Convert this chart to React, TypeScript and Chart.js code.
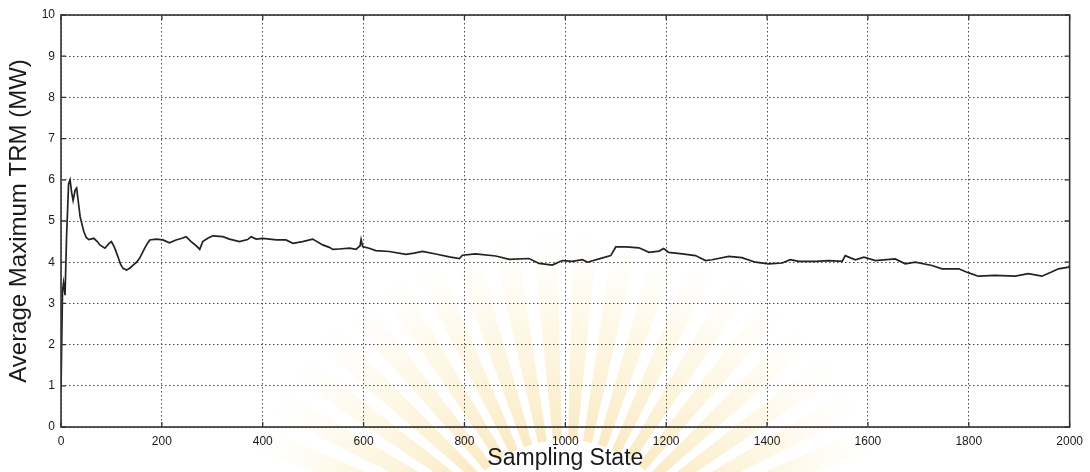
import React, { useEffect, useRef } from "react";
import { Chart, registerables } from "chart.js";

Chart.register(...registerables);

const samplingState: number[] = [
  0, 3, 5, 8, 11, 15, 18, 21, 24, 28, 31, 35, 38, 42, 45, 50, 55, 65, 72, 77, 87, 95, 100, 106, 113, 118,
  123, 130, 137, 143, 150, 156, 161, 166, 171, 176, 189, 202, 215, 228, 240, 248, 258, 268, 275, 281,
  291, 301, 321, 334, 354, 370, 377, 387, 400, 427, 446, 460, 479, 499, 519, 532, 539, 552, 572, 585,
  593, 595, 598, 611, 624, 651, 684, 700, 717, 743, 770, 790, 796, 822, 862, 889, 928, 948, 974, 994,
  1014, 1034, 1044, 1067, 1090, 1100, 1120, 1146, 1166, 1186, 1195, 1205, 1232, 1258, 1278, 1291,
  1324, 1350, 1377, 1403, 1430, 1446, 1463, 1496, 1522, 1549, 1555, 1575, 1592, 1615, 1654, 1674,
  1694, 1727, 1747, 1780, 1800, 1819, 1852, 1892, 1918, 1945, 1964, 1978, 1998, 2000,
];

const avgMaxTRM: number[] = [
  0.9, 3.3, 3.5, 3.2, 4.6, 5.9, 6.0, 5.7, 5.5, 5.75, 5.8, 5.4, 5.1, 4.9, 4.75, 4.6, 4.55, 4.58, 4.5,
  4.42, 4.34, 4.45, 4.5, 4.36, 4.13, 3.95, 3.85, 3.81, 3.86, 3.93, 4.0, 4.1, 4.22, 4.34, 4.45, 4.54,
  4.56, 4.54, 4.47, 4.54, 4.58, 4.62, 4.5, 4.4, 4.31, 4.5, 4.58, 4.64, 4.62, 4.56, 4.5, 4.55, 4.62,
  4.56, 4.58, 4.54, 4.54, 4.46, 4.5, 4.56, 4.42, 4.36, 4.31, 4.32, 4.34, 4.31, 4.4, 4.55, 4.38, 4.34,
  4.28, 4.26, 4.19, 4.22, 4.26, 4.2, 4.13, 4.09, 4.17, 4.2, 4.15, 4.07, 4.09, 3.97, 3.93, 4.04, 4.02,
  4.06, 4.0, 4.08, 4.16, 4.37, 4.37, 4.35, 4.24, 4.27, 4.33, 4.24, 4.2, 4.16, 4.04, 4.06, 4.14, 4.11,
  4.0, 3.96, 3.98, 4.06, 4.02, 4.02, 4.04, 4.02, 4.16, 4.06, 4.12, 4.04, 4.08, 3.96, 4.0, 3.92, 3.84,
  3.84, 3.74, 3.66, 3.68, 3.66, 3.72, 3.66, 3.76, 3.84, 3.88, 3.92,
];

const xTickValues: number[] = [0, 200, 400, 600, 800, 1000, 1200, 1400, 1600, 1800, 2000];
const yTickValues: number[] = [0, 1, 2, 3, 4, 5, 6, 7, 8, 9, 10];

const xTitle = "Sampling State";
const yTitle = "Average Maximum TRM (MW)";

const FONT = "'Liberation Sans', Arial, Helvetica, sans-serif";

// faint background watermark (scanned page emblem)
const watermark = {
  id: "watermark",
  beforeDraw(chart: any) {
    const { ctx } = chart;
    const cx = 565;
    const cy = 560;
    const r0 = 120;
    const r1 = 330;
    ctx.save();
    const n = 20;
    const start = Math.PI * 1.1;
    const end = Math.PI * 1.9;
    const step = (end - start) / n;
    for (let i = 0; i < n; i++) {
      const a0 = start + i * step + step * 0.2;
      const a1 = start + (i + 1) * step - step * 0.2;
      const g = ctx.createRadialGradient(cx, cy, r0, cx, cy, r1);
      g.addColorStop(0, "rgba(240,190,70,0.32)");
      g.addColorStop(0.6, "rgba(248,215,120,0.16)");
      g.addColorStop(1, "rgba(252,235,180,0)");
      ctx.fillStyle = g;
      ctx.beginPath();
      ctx.moveTo(cx + Math.cos(a0) * r0, cy + Math.sin(a0) * r0);
      ctx.lineTo(cx + Math.cos(a0) * r1, cy + Math.sin(a0) * r1);
      ctx.lineTo(cx + Math.cos(a1) * r1, cy + Math.sin(a1) * r1);
      ctx.lineTo(cx + Math.cos(a1) * r0, cy + Math.sin(a1) * r0);
      ctx.closePath();
      ctx.fill();
    }
    ctx.restore();
  },
};

const frameAndTicks = {
  id: "frameAndTicks",
  afterDraw(chart: any) {
    const { ctx, chartArea, scales } = chart;
    const { left, right, top, bottom } = chartArea;
    ctx.save();
    ctx.strokeStyle = "#333";
    ctx.lineWidth = 1.6;
    ctx.setLineDash([]);
    ctx.strokeRect(left, top, right - left, bottom - top);
    ctx.lineWidth = 1.3;
    const len = 5;
    ctx.beginPath();
    xTickValues.forEach((v) => {
      const x = scales.x.getPixelForValue(v);
      ctx.moveTo(x, bottom);
      ctx.lineTo(x, bottom - len);
      ctx.moveTo(x, top);
      ctx.lineTo(x, top + len);
    });
    yTickValues.forEach((v) => {
      const y = scales.y.getPixelForValue(v);
      ctx.moveTo(left, y);
      ctx.lineTo(left + len, y);
      ctx.moveTo(right, y);
      ctx.lineTo(right - len, y);
    });
    ctx.stroke();
    ctx.restore();
  },
};

export default function App() {
  const canvasRef = useRef<HTMLCanvasElement | null>(null);

  useEffect(() => {
    if (!canvasRef.current) return;
    const points = samplingState.map((x, i) => ({ x, y: avgMaxTRM[i] }));
    const chart = new Chart(canvasRef.current, {
      type: "line",
      data: {
        datasets: [
          {
            data: points,
            borderColor: "#222",
            borderWidth: 1.7,
            pointRadius: 0,
            tension: 0,
            fill: false,
          },
        ],
      },
      options: {
        animation: false,
        responsive: false,
        maintainAspectRatio: false,
        parsing: false as any,
        layout: { padding: { top: 15, right: 19, left: 0, bottom: 0 } },
        plugins: {
          legend: { display: false },
          tooltip: { enabled: false },
        },
        scales: {
          x: {
            type: "linear",
            min: 0,
            max: 2000,
            afterFit: (s: any) => {
              s.height = 45;
            },
            afterBuildTicks: (s: any) => {
              s.ticks = xTickValues.map((v) => ({ value: v }));
            },
            ticks: {
              color: "#1a1a1a",
              font: { family: FONT, size: 12 },
              padding: 7,
              maxRotation: 0,
              autoSkip: false,
              callback: (v: any) => String(v),
            },
            grid: {
              color: "#4a4a4a",
              lineWidth: 1,
              drawTicks: false,
            },
            border: { display: false, dash: [1.5, 2.5] },
            title: {
              display: true,
              text: xTitle,
              color: "#1a1a1a",
              font: { family: FONT, size: 23 },
              padding: { top: 0, bottom: 0 },
            },
          },
          y: {
            type: "linear",
            min: 0,
            max: 10,
            afterFit: (s: any) => {
              s.width = 61;
            },
            afterBuildTicks: (s: any) => {
              s.ticks = yTickValues.map((v) => ({ value: v }));
            },
            ticks: {
              color: "#1a1a1a",
              font: { family: FONT, size: 12 },
              padding: 6,
              autoSkip: false,
              callback: (v: any) => String(v),
            },
            grid: {
              color: "#4a4a4a",
              lineWidth: 1,
              drawTicks: false,
            },
            border: { display: false, dash: [1.5, 2.5] },
            title: {
              display: true,
              text: yTitle,
              color: "#1a1a1a",
              font: { family: FONT, size: 24 },
              padding: { top: 5, bottom: 0 },
            },
          },
        },
      },
      plugins: [watermark, frameAndTicks],
    });
    return () => chart.destroy();
  }, []);

  return (
    <div style={{ position: "fixed", left: 0, top: 0, width: 1090, height: 472, background: "#fff" }}>
      <canvas ref={canvasRef} width={1090} height={472} style={{ display: "block" }} />
    </div>
  );
}
